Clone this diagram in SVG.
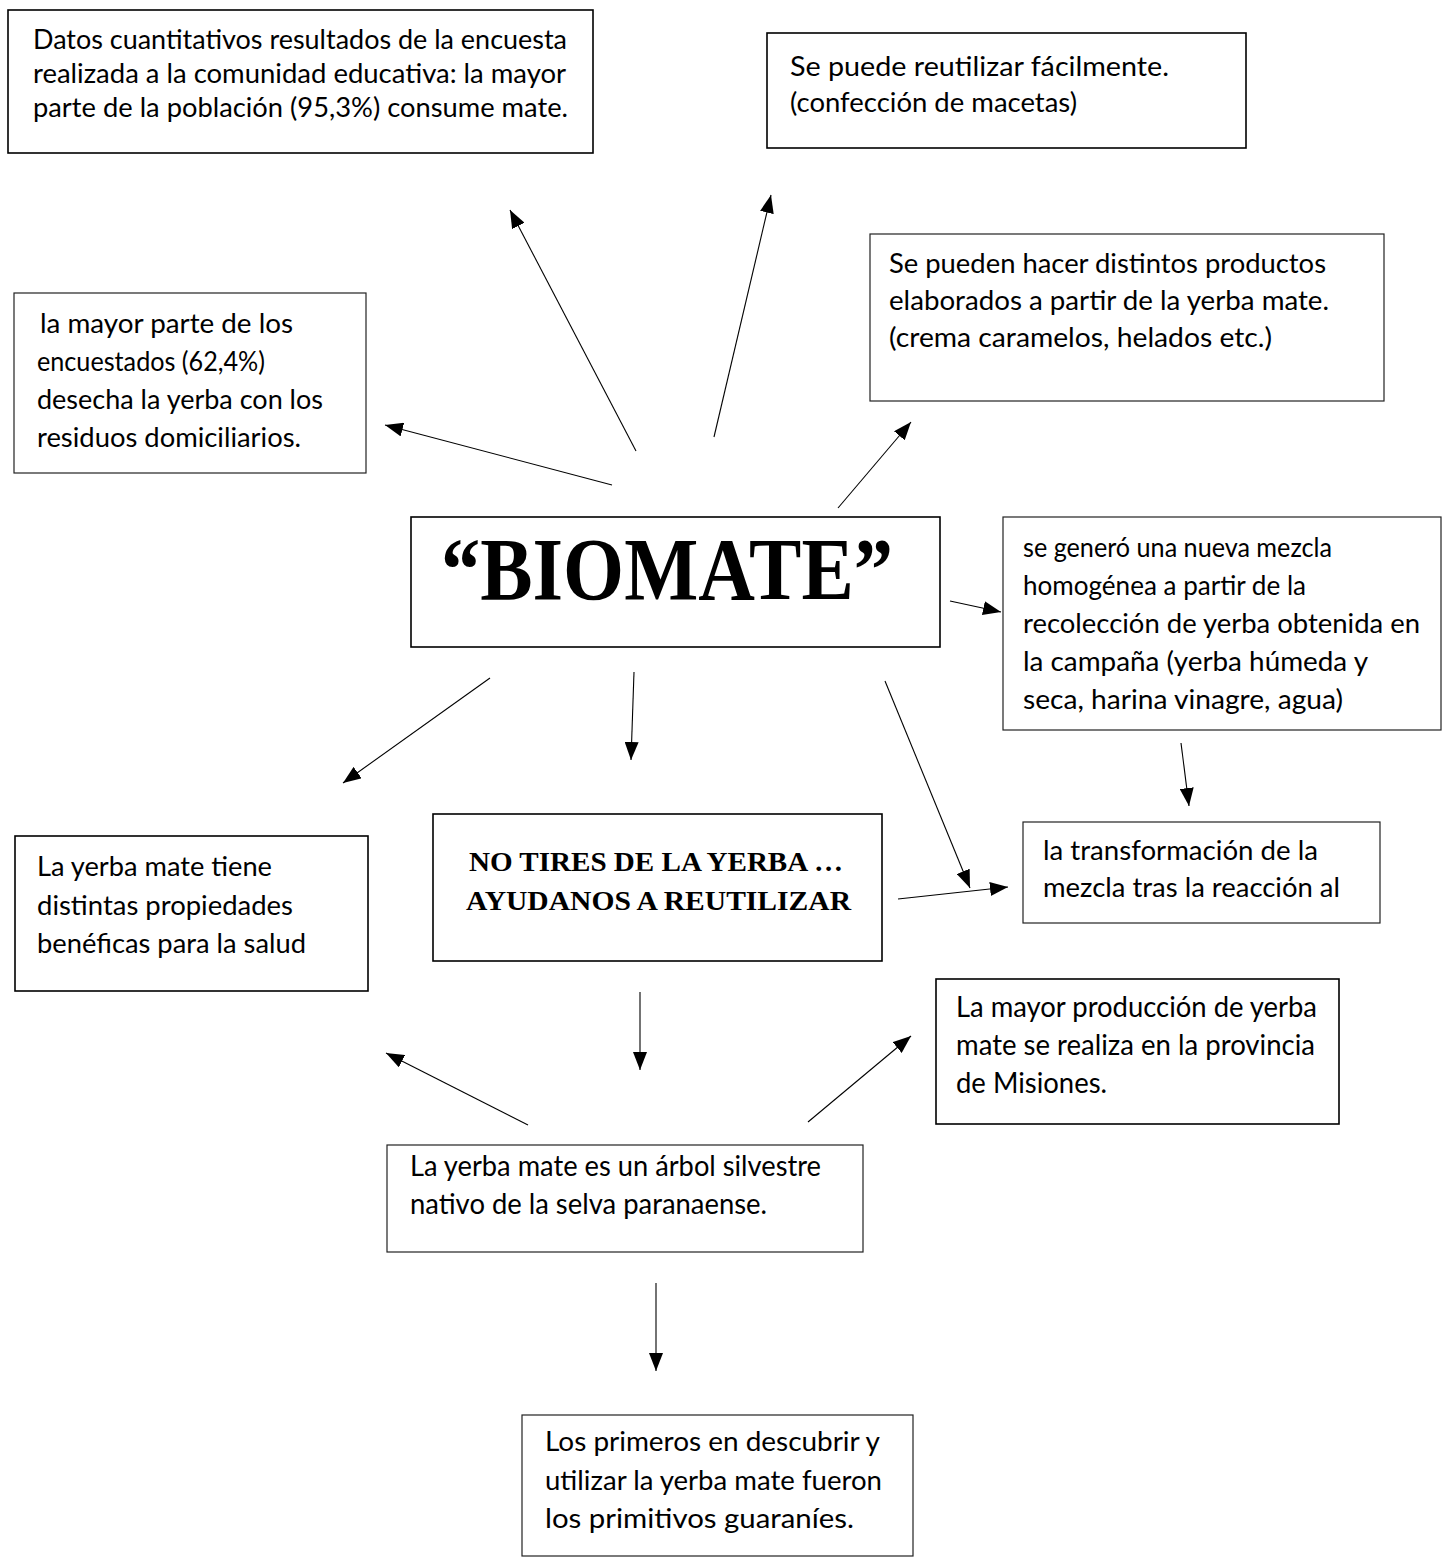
<svg xmlns="http://www.w3.org/2000/svg" width="1442" height="1557" viewBox="0 0 1442 1557">
<style>
.box{fill:#fff;stroke:#000;stroke-width:1.6}
.thin{fill:#fff;stroke:#222;stroke-width:1.2}
.t{font-family:Lato,"Liberation Sans",sans-serif;font-size:27px;fill:#000}
.c{font-family:Lato,"Liberation Sans",sans-serif;font-size:28px;fill:#000}
.tb{font-family:"Liberation Serif","Times New Roman",serif;font-weight:bold;fill:#000}
.con line{stroke:#000;stroke-width:1.1;marker-end:url(#ah)}
</style>
<defs>
<marker id="ah" markerUnits="userSpaceOnUse" markerWidth="18" markerHeight="14" refX="18" refY="7" orient="auto">
<path d="M0,0 L18,7 L0,14 z" fill="#000"/>
</marker>
</defs>
<rect width="1442" height="1557" fill="#fff"/>

<g id="n-datos">
<rect class="box" x="8" y="10" width="585" height="143"/>
<text class="t" x="33" y="49" textLength="534" lengthAdjust="spacingAndGlyphs">Datos cuantitativos resultados de la encuesta</text>
<text class="t" x="33" y="83" textLength="533" lengthAdjust="spacingAndGlyphs">realizada a la comunidad educativa: la mayor</text>
<text class="t" x="33" y="117" textLength="535" lengthAdjust="spacingAndGlyphs">parte de la población (95,3%) consume mate.</text>
</g>

<g id="n-reutilizar">
<rect class="box" x="767" y="33" width="479" height="115"/>
<text class="t" x="790" y="76" textLength="379" lengthAdjust="spacingAndGlyphs">Se puede reutilizar fácilmente.</text>
<text class="t" x="790" y="112" textLength="287" lengthAdjust="spacingAndGlyphs">(confección de macetas)</text>
</g>

<g id="n-encuestados">
<rect class="thin" x="14" y="293" width="352" height="180"/>
<text class="t" x="40" y="333" textLength="253" lengthAdjust="spacingAndGlyphs">la mayor parte de los</text>
<text class="t" x="37" y="371" textLength="228" lengthAdjust="spacingAndGlyphs">encuestados (62,4%)</text>
<text class="t" x="37" y="409" textLength="286" lengthAdjust="spacingAndGlyphs">desecha la yerba con los</text>
<text class="t" x="37" y="447" textLength="264" lengthAdjust="spacingAndGlyphs">residuos domiciliarios.</text>
</g>

<g id="n-productos">
<rect class="thin" x="870" y="234" width="514" height="167"/>
<text class="t" x="889" y="273" textLength="437" lengthAdjust="spacingAndGlyphs">Se pueden hacer distintos productos</text>
<text class="t" x="889" y="310" textLength="440" lengthAdjust="spacingAndGlyphs">elaborados a partir de la yerba mate.</text>
<text class="t" x="889" y="347" textLength="383" lengthAdjust="spacingAndGlyphs">(crema caramelos, helados etc.)</text>
</g>

<g id="n-biomate">
<rect class="box" x="411" y="517" width="529" height="130"/>
<text class="tb" x="441" y="599" font-size="88" textLength="452" lengthAdjust="spacingAndGlyphs">“BIOMATE”</text>
</g>

<g id="n-mezcla">
<rect class="thin" x="1003" y="517" width="438" height="213"/>
<text class="t" x="1023" y="557" textLength="309" lengthAdjust="spacingAndGlyphs">se generó una nueva mezcla</text>
<text class="t" x="1023" y="595" textLength="283" lengthAdjust="spacingAndGlyphs">homogénea a partir de la</text>
<text class="t" x="1023" y="633" textLength="397" lengthAdjust="spacingAndGlyphs">recolección de yerba obtenida en</text>
<text class="t" x="1023" y="671" textLength="345" lengthAdjust="spacingAndGlyphs">la campaña (yerba húmeda y</text>
<text class="t" x="1023" y="709" textLength="320" lengthAdjust="spacingAndGlyphs">seca, harina vinagre, agua)</text>
</g>

<g id="n-salud">
<rect class="box" x="15" y="836" width="353" height="155"/>
<text class="t" x="37" y="876" textLength="235" lengthAdjust="spacingAndGlyphs">La yerba mate tiene</text>
<text class="t" x="37" y="915" textLength="256" lengthAdjust="spacingAndGlyphs">distintas propiedades</text>
<text class="t" x="37" y="953" textLength="269" lengthAdjust="spacingAndGlyphs">benéficas para la salud</text>
</g>

<g id="n-notires">
<rect class="box" x="433" y="814" width="449" height="147"/>
<text class="tb" x="469" y="871" font-size="27" textLength="374" lengthAdjust="spacingAndGlyphs">NO TIRES DE LA YERBA …</text>
<text class="tb" x="466" y="910" font-size="27" textLength="385" lengthAdjust="spacingAndGlyphs">AYUDANOS A REUTILIZAR</text>
</g>

<g id="n-transformacion">
<rect class="thin" x="1023" y="822" width="357" height="101"/>
<text class="t" x="1043" y="860" textLength="275" lengthAdjust="spacingAndGlyphs">la transformación de la</text>
<text class="t" x="1043" y="897" textLength="297" lengthAdjust="spacingAndGlyphs">mezcla tras la reacción al</text>
</g>

<g id="n-misiones">
<rect class="box" x="936" y="979" width="403" height="145"/>
<text class="c" x="956" y="1017" textLength="361" lengthAdjust="spacingAndGlyphs">La mayor producción de yerba</text>
<text class="c" x="956" y="1055" textLength="359" lengthAdjust="spacingAndGlyphs">mate se realiza en la provincia</text>
<text class="c" x="956" y="1093" textLength="151" lengthAdjust="spacingAndGlyphs">de Misiones.</text>
</g>

<g id="n-arbol">
<rect class="thin" x="387" y="1145" width="476" height="107"/>
<text class="c" x="410" y="1176" textLength="411" lengthAdjust="spacingAndGlyphs">La yerba mate es un árbol silvestre</text>
<text class="c" x="410" y="1214" textLength="357" lengthAdjust="spacingAndGlyphs">nativo de la selva paranaense.</text>
</g>

<g id="n-primeros">
<rect class="thin" x="522" y="1415" width="391" height="141"/>
<text class="t" x="545" y="1451" textLength="335" lengthAdjust="spacingAndGlyphs">Los primeros en descubrir y</text>
<text class="t" x="545" y="1490" textLength="337" lengthAdjust="spacingAndGlyphs">utilizar la yerba mate fueron</text>
<text class="t" x="545" y="1528" textLength="309" lengthAdjust="spacingAndGlyphs">los primitivos guaraníes.</text>
</g>

<g id="connectors" class="con">
<line x1="612" y1="485" x2="385" y2="425"/>
<line x1="636" y1="451" x2="510" y2="210"/>
<line x1="714" y1="437" x2="771" y2="195"/>
<line x1="838" y1="508" x2="911" y2="422"/>
<line x1="950" y1="601" x2="1001" y2="612"/>
<line x1="490" y1="678" x2="343" y2="783"/>
<line x1="634" y1="672" x2="631" y2="760"/>
<line x1="885" y1="681" x2="970" y2="888"/>
<line x1="1181" y1="743" x2="1189" y2="806"/>
<line x1="898" y1="899" x2="1008" y2="887"/>
<line x1="640" y1="992" x2="640" y2="1070"/>
<line x1="528" y1="1125" x2="386" y2="1053"/>
<line x1="808" y1="1122" x2="911" y2="1036"/>
<line x1="656" y1="1283" x2="656" y2="1371"/>
</g>
</svg>
